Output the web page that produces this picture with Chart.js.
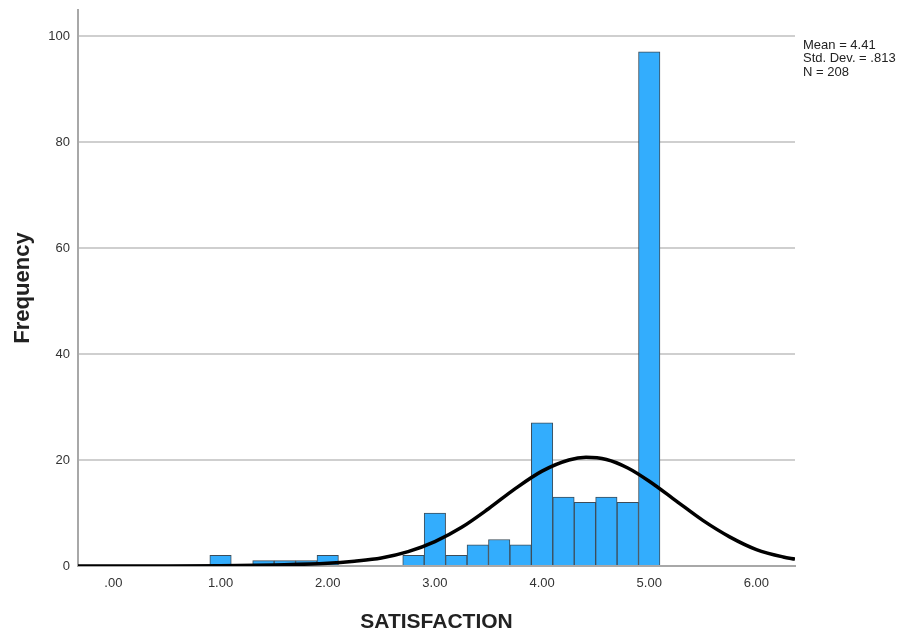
<!DOCTYPE html>
<html>
<head>
<meta charset="utf-8">
<script src="https://cdn.jsdelivr.net/npm/chart.js@4/dist/chart.umd.min.js"></script>
<style>
  html, body { margin: 0; padding: 0; background: #ffffff; }
  #wrap { position: relative; width: 901px; height: 631px; }
</style>
</head>
<body>
<div id="wrap"><canvas id="c" width="901" height="631"></canvas></div>
<script>
// Histogram bins (bin centers, width 0.2) and frequencies
const binCenters = [1.0, 1.4, 1.6, 1.8, 2.0, 2.8, 3.0, 3.2, 3.4, 3.6, 3.8, 4.0, 4.2, 4.4, 4.6, 4.8, 5.0];
const frequencies = [2, 1, 1, 1, 2, 2, 10, 2, 4, 5, 4, 27, 13, 12, 13, 12, 97];

// Normal curve
const curveX = [-0.33, 0.5, 1.0, 1.5, 2.0, 2.25, 2.5, 2.75, 3.0, 3.25, 3.5, 3.75, 4.0, 4.25, 4.41, 4.6, 4.8, 5.0, 5.25, 5.5, 5.75, 6.0, 6.25, 6.36];
const curveY = [0, 0, 0.05, 0.2, 0.5, 0.9, 1.5, 2.7, 4.6, 7.3, 10.8, 14.6, 17.9, 20.0, 20.5, 20.1, 18.5, 16.0, 12.3, 8.6, 5.5, 3.1, 1.7, 1.3];

// Axis ticks and labels
const xTickValues = [0, 1, 2, 3, 4, 5, 6];
const xTickLabels = ['.00', '1.00', '2.00', '3.00', '4.00', '5.00', '6.00'];
const yTickValues = [0, 20, 40, 60, 80, 100];

const statsLines = ['Mean = 4.41', 'Std. Dev. = .813', 'N = 208'];
const xTitle = 'SATISFACTION';
const yTitle = 'Frequency';

const FONT = "'Liberation Sans', Arial, sans-serif";

const statsPlugin = {
  id: 'stats',
  afterDraw(chart) {
    const ctx = chart.ctx;
    ctx.save();
    ctx.font = '13px ' + FONT;
    ctx.fillStyle = '#222222';
    ctx.textAlign = 'left';
    ctx.textBaseline = 'middle';
    const x = chart.chartArea.right + 8;
    statsLines.forEach((t, i) => ctx.fillText(t, x, 45 + i * 13.5));
    ctx.restore();
  }
};

const barData = binCenters.map((x, i) => ({ x: x, y: frequencies[i] }));
const lineData = curveX.map((x, i) => ({ x: x, y: curveY[i] }));

new Chart(document.getElementById('c'), {
  type: 'bar',
  data: {
    datasets: [
      {
        type: 'line',
        data: lineData,
        borderColor: '#000000',
        borderWidth: 3.5,
        pointRadius: 0,
        cubicInterpolationMode: 'monotone',
        fill: false,
        order: 0
      },
      {
        type: 'bar',
        data: barData,
        backgroundColor: '#33adfd',
        borderColor: '#3d4c58',
        borderWidth: 1,
        barPercentage: 1.0,
        categoryPercentage: 1.0,
        grouped: false,
        order: 1
      }
    ]
  },
  options: {
    responsive: false,
    animation: false,
    devicePixelRatio: 1,
    layout: { padding: { left: 0, right: 106, top: 10, bottom: 0 } },
    plugins: { legend: { display: false }, tooltip: { enabled: false } },
    scales: {
      x: {
        type: 'linear',
        min: -0.33,
        max: 6.36,
        offset: false,
        afterFit(s) { s.height = 65; s.paddingLeft = 0; s.paddingRight = 0; },
        afterBuildTicks(s) { s.ticks = xTickValues.map(v => ({ value: v })); },
        ticks: {
          padding: 10,
          color: '#333333',
          font: { family: FONT, size: 13 },
          maxRotation: 0,
          autoSkip: false,
          callback: (v) => { const i = xTickValues.indexOf(v); return i >= 0 ? xTickLabels[i] : ''; }
        },
        grid: { display: false, drawTicks: false },
        border: { display: true, color: '#a8a8a8', width: 2 },
        title: {
          display: true,
          text: xTitle,
          color: '#222222',
          font: { family: FONT, size: 21, weight: 'bold', lineHeight: 0.85 },
          padding: { top: 0, bottom: 0 }
        }
      },
      y: {
        min: 0,
        max: 104.9,
        afterFit(s) { s.width = 78; s.paddingTop = 0; s.paddingBottom = 0; },
        afterBuildTicks(s) { s.ticks = yTickValues.map(v => ({ value: v })); },
        ticks: {
          padding: 8,
          color: '#333333',
          font: { family: FONT, size: 13 }
        },
        grid: { color: '#cfcfcf', lineWidth: 2, drawTicks: false },
        border: { display: true, color: '#a8a8a8', width: 2 },
        title: {
          display: true,
          text: yTitle,
          color: '#222222',
          font: { family: FONT, size: 22, weight: 'bold' },
          padding: { top: 10, bottom: 0 }
        }
      }
    }
  },
  plugins: [statsPlugin]
});
</script>
</body>
</html>
